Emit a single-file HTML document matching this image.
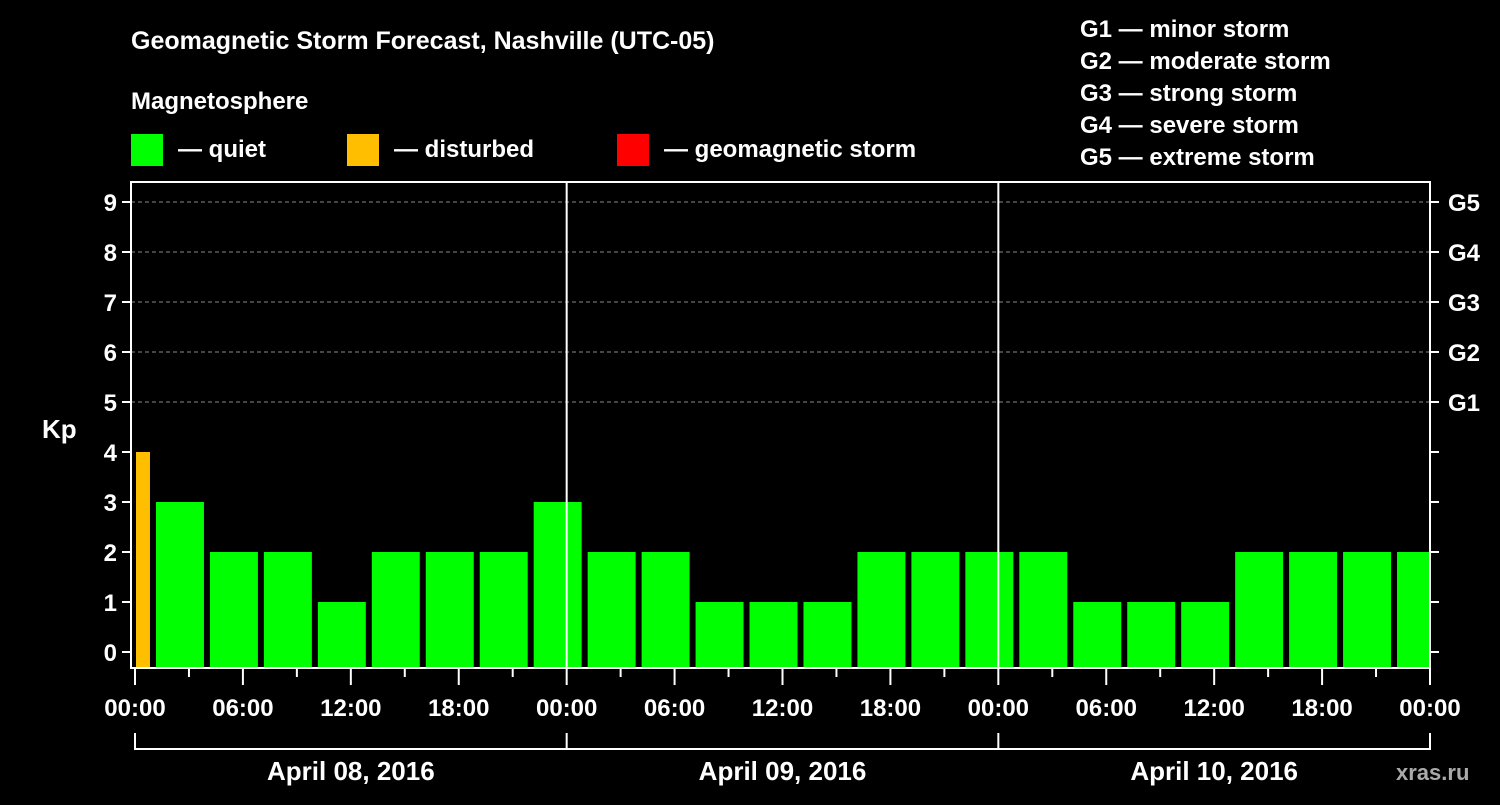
<!DOCTYPE html>
<html><head><meta charset="utf-8"><style>
body{margin:0;background:#000;width:1500px;height:800px;overflow:hidden}
svg text{font-family:"Liberation Sans",sans-serif;font-weight:bold;fill:#fff}
</style></head><body>
<svg id="c" width="1500" height="800">
<text x="131" y="49" font-size="25">Geomagnetic Storm Forecast, Nashville (UTC-05)</text>
<text x="131" y="109" font-size="24">Magnetosphere</text>
<g><rect x="131" y="134" width="32" height="32" fill="#00ff00"/><text x="178" y="157" font-size="24">— quiet</text></g>
<g><rect x="347" y="134" width="32" height="32" fill="#ffbf00"/><text x="394" y="157" font-size="24">— disturbed</text></g>
<g><rect x="617" y="134" width="32" height="32" fill="#ff0000"/><text x="664" y="157" font-size="24">— geomagnetic storm</text></g>
<g font-size="24">
<text x="1080" y="37">G1 — minor storm</text><text x="1080" y="69">G2 — moderate storm</text><text x="1080" y="101">G3 — strong storm</text><text x="1080" y="133">G4 — severe storm</text><text x="1080" y="165">G5 — extreme storm</text></g>
<text x="42" y="438" font-size="26">Kp</text>
<text x="1396" y="780" font-size="22" fill="#999" style="fill:#aaa">xras.ru</text>
<g id="plot"></g>
</svg>
<script>
const kpValues=[4,3,2,2,1,2,2,2,3,2,2,1,1,1,2,2,2,2,1,1,1,2,2,2,2];
const slotStartHours=[-2,1,4,7,10,13,16,19,22,25,28,31,34,37,40,43,46,49,52,55,58,61,64,67,70];
const xTickLabels=["00:00","06:00","12:00","18:00","00:00","06:00","12:00","18:00","00:00","06:00","12:00","18:00","00:00"];
const dateLabels=["April 08, 2016","April 09, 2016","April 10, 2016"];
const gLabels=["G1","G2","G3","G4","G5"];
const NS="http://www.w3.org/2000/svg";
const L=131,R=1430,T=182,B=668,X0=135,PXH=(1430-135)/72;
const x=h=>X0+h*PXH, y=v=>652-50*v;
const g=document.getElementById('plot');
function mk(tag,a,parent){const e=document.createElementNS(NS,tag);for(const k in a)e.setAttribute(k,a[k]);(parent||g).appendChild(e);return e;}
// gridlines
for(let v=5;v<=9;v++){const e=mk('line',{x1:L,x2:R,y1:y(v),y2:y(v),stroke:'#888','stroke-dasharray':'4,3','stroke-width':1});

}
// bars
kpValues.forEach((v,i)=>{const s=Math.max(0,slotStartHours[i]),en=Math.min(72,slotStartHours[i]+3);
const x1=x(s)+(slotStartHours[i]>=0?3:1),x2=x(en)-(slotStartHours[i]+3<=72?3:0);
const col=v>=5?'#ff0000':(v>=4?'#ffbf00':'#00ff00');
const e=mk('rect',{x:x1,y:y(v),width:x2-x1,height:B-1-y(v),fill:col});

});
// frame
const fr=mk('rect',{x:L,y:T,width:R-L,height:B-T,fill:'none',stroke:'#fff','stroke-width':2});


[24,48].forEach(h=>{const e=mk('line',{x1:x(h),x2:x(h),y1:T,y2:B,stroke:'#fff','stroke-width':2});

});
// y ticks
for(let v=0;v<=9;v++){mk('line',{x1:L-9,x2:L,y1:y(v),y2:y(v),stroke:'#fff','stroke-width':2});mk('line',{x1:R,x2:R+9,y1:y(v),y2:y(v),stroke:'#fff','stroke-width':2});
const t=mk('text',{x:L-14,y:y(v)+9,'font-size':24,'text-anchor':'end'});t.textContent=v;

}
gLabels.forEach((s,i)=>{const t=mk('text',{x:R+18,y:y(i+5)+9,'font-size':24});t.textContent=s;

});
// x ticks
for(let h=0;h<=72;h+=3){const maj=h%6==0;mk('line',{x1:x(h),x2:x(h),y1:B,y2:B+(maj?17:9),stroke:'#fff','stroke-width':2});}
xTickLabels.forEach((s,i)=>{const t=mk('text',{x:x(i*6),y:716,'font-size':24,'text-anchor':'middle'});t.textContent=s;

});
// date bracket
mk('line',{x1:X0,x2:x(72),y1:749,y2:749,stroke:'#fff','stroke-width':2});
[0,24,48,72].forEach(h=>mk('line',{x1:x(h),x2:x(h),y1:733,y2:750,stroke:'#fff','stroke-width':2}));
dateLabels.forEach((s,i)=>{const t=mk('text',{x:x(i*24+12),y:780,'font-size':26,'text-anchor':'middle'});t.textContent=s;

});
</script>
</body></html>
